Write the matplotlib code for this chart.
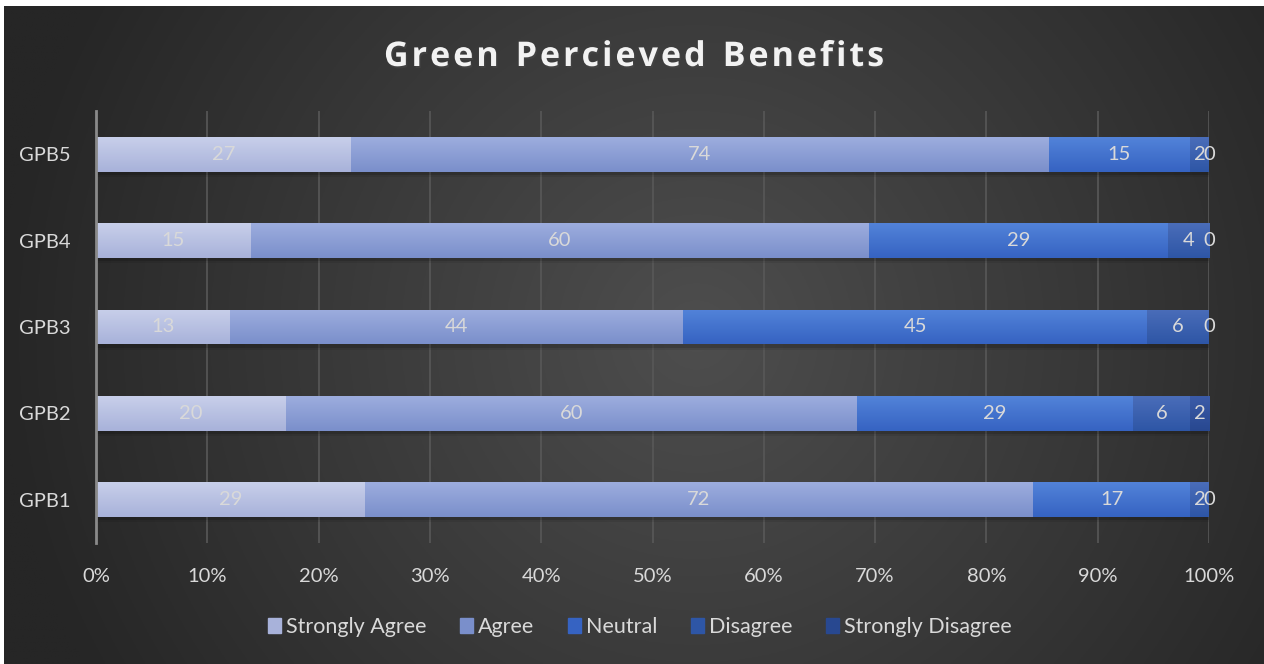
import numpy as np
import matplotlib

matplotlib.use("Agg")

import matplotlib.pyplot as plt  # noqa: E402
import matplotlib.patheffects as pe  # noqa: E402
from matplotlib.colors import to_rgb  # noqa: E402
from matplotlib.patches import Rectangle  # noqa: E402

categories = ["GPB1", "GPB2", "GPB3", "GPB4", "GPB5"]
series = ["Strongly Agree", "Agree", "Neutral", "Disagree", "Strongly Disagree"]
strongly_agree = [29, 20, 13, 15, 27]
agree = [72, 60, 44, 60, 74]
neutral = [17, 29, 45, 29, 15]
disagree = [2, 6, 6, 4, 2]
strongly_disagree = [0, 2, 0, 0, 0]
x_ticks = [0, 10, 20, 30, 40, 50, 60, 70, 80, 90, 100]

# (top, bottom) colour of the vertical gradient for each series
shades = [
    ("#c8cfea", "#a8b2da"),
    ("#9dadde", "#7a8fcb"),
    ("#5283d9", "#3663c2"),
    ("#4a6db9", "#2e56a6"),
    ("#3b5ba8", "#284890"),
]
TEXT = "#d9d9d9"
FONT = "Lato"
FS = 14.5

W, H = 1264, 664
fig = plt.figure(figsize=(W / 100, H / 100), dpi=100)
fig.patch.set_facecolor("white")

# dark radial backdrop, leaving a thin white strip at top and left
bg = fig.add_axes([4 / W, 0, 1 - 4 / W, 1 - 6 / H])
bg.set_axis_off()
yy, xx = np.mgrid[0:1:300j, 0:1:600j]
r = np.sqrt(((xx - 0.55) * 1.9) ** 2 + ((yy - 0.5) * 1.0) ** 2)
r = np.clip(r / 1.05, 0, 1)
c_in, c_out = np.array(to_rgb("#4e4e4e")), np.array(to_rgb("#262626"))
img = c_in[None, None, :] * (1 - r[..., None]) + c_out[None, None, :] * r[..., None]
bg.imshow(img, aspect="auto", extent=(0, 1, 0, 1), origin="lower")
bg.set_xlim(0, 1)
bg.set_ylim(0, 1)

ax = fig.add_axes([96 / W, 1 - 543 / H, (1209 - 96) / W, 432 / H])
ax.patch.set_alpha(0)

values = np.array([strongly_agree, agree, neutral, disagree, strongly_disagree], dtype=float)
totals = values.sum(axis=0)
shares = values / totals * 100
ypos = np.arange(len(categories))
bar_h = 0.405

left = np.zeros(len(categories))
for i, name in enumerate(series):
    widths = shares[i]
    bars = ax.barh(ypos, widths, left=left, height=bar_h, color=shades[i][1],
                   label=name, zorder=3, linewidth=0)
    top, bot = np.array(to_rgb(shades[i][0])), np.array(to_rgb(shades[i][1]))
    grad = np.linspace(0, 1, 64)[:, None, None]
    gimg = top * (1 - grad) + bot * grad
    for bar, y, l, w in zip(bars, ypos, left, widths):
        if w <= 0:
            continue
        # soft shadow under each segment
        for k, a in ((0.035, 0.14), (0.06, 0.08)):
            ax.add_patch(Rectangle((l, y - bar_h / 2 - k), w, bar_h, color="black",
                                   alpha=a, zorder=2, linewidth=0))
        im = ax.imshow(gimg, aspect="auto", origin="upper", zorder=4,
                       extent=(l, l + w, y - bar_h / 2, y + bar_h / 2))
        im.set_clip_path(bar)
    for y, l, w, v in zip(ypos, left, widths, values[i]):
        ax.text(l + w / 2, y, f"{int(v)}", ha="center", va="center", color=TEXT,
                fontsize=FS, family=FONT, zorder=6)
    left = left + widths

ax.set_xlim(0, 100)
ax.set_ylim(-0.5, 4.5)
ax.set_xticks(x_ticks)
ax.set_xticklabels([f"{t}%" for t in x_ticks], color=TEXT, fontsize=FS, family=FONT)
ax.set_yticks(ypos)
ax.set_yticklabels(categories, color=TEXT, fontsize=FS, family=FONT)
ax.tick_params(axis="x", length=0, pad=18)
ax.tick_params(axis="y", length=0, pad=18.5)
ax.grid(axis="x", color="#585858", linewidth=1.2, zorder=0)
ax.set_axisbelow(True)
for side in ("top", "right", "bottom"):
    ax.spines[side].set_visible(False)
ax.spines["left"].set_color("#8a8a8a")
ax.spines["left"].set_linewidth(2)
ax.spines["left"].set_zorder(7)

handles = [Rectangle((0, 0), 1, 1, color=shades[i][1]) for i in range(len(series))]
leg = fig.legend(handles, series, loc="center", bbox_to_anchor=(640 / W, 1 - 627 / H),
                 ncol=5, frameon=False, handlelength=0.6, handleheight=0.75,
                 handletextpad=0.25, columnspacing=1.55, prop={"family": FONT, "size": FS + 1})
for t in leg.get_texts():
    t.set_color(TEXT)


def spaced_text(fig, s, cx, cy, spacing, **kw):
    # draw a string one glyph at a time with extra tracking between letters
    renderer = fig.canvas.get_renderer()
    widths = []
    for ch in s:
        t = fig.text(0, 0, ch.replace(" ", "n"), **kw)
        w = t.get_window_extent(renderer).width
        if ch == " ":
            w *= 0.5
        widths.append(w)
        t.remove()
    total = sum(widths) + spacing * (len(s) - 1)
    x = cx * W - total / 2
    for ch, w in zip(s, widths):
        if ch != " ":
            fig.text(x / W, cy, ch, ha="left", va="center", **kw)
        x += w + spacing


spaced_text(fig, "Green Percieved Benefits", 634 / W, 1 - 57 / H, 3.0,
            color="#f2f2f2", fontsize=24.5, fontweight="bold", family="Open Sans",
            path_effects=[pe.withSimplePatchShadow(offset=(1, -1.5), alpha=0.5)])

fig.savefig("out.png", dpi=100)
